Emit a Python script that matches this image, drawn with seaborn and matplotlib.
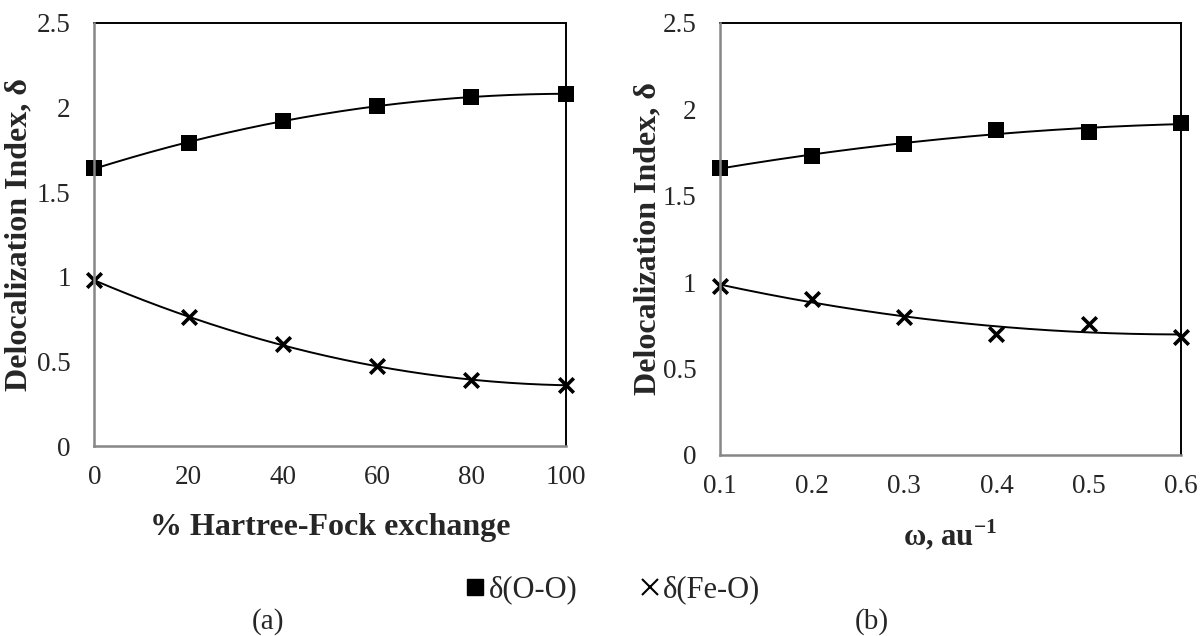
import numpy as np
import pandas as pd
import matplotlib
matplotlib.use("Agg")
import matplotlib.pyplot as plt
import matplotlib.lines as mlines
import seaborn as sns

# panel (a): % Hartree-Fock exchange
hf_x = [0, 20, 40, 60, 80, 100]
hf_oo = [1.64, 1.79, 1.92, 2.01, 2.06, 2.08]
hf_feo = [0.98, 0.76, 0.60, 0.47, 0.39, 0.36]

# panel (b): range separation parameter omega
om_x = [0.1, 0.2, 0.3, 0.4, 0.5, 0.6]
om_oo = [1.66, 1.73, 1.80, 1.88, 1.87, 1.92]
om_feo = [0.98, 0.90, 0.80, 0.70, 0.76, 0.68]

y_ticks = [0, 0.5, 1, 1.5, 2, 2.5]
y_tick_labels = ["0", "0.5", "1", "1.5", "2", "2.5"]

sns.set_style("white")
plt.rcParams['font.family'] = ['Liberation Serif', 'DejaVu Serif']
plt.rcParams['mathtext.fontset'] = 'custom'
plt.rcParams['mathtext.rm'] = 'Liberation Serif'
plt.rcParams['mathtext.bf'] = 'Liberation Serif:bold'

GRAY = '#868686'


def trend(x, y, n=200):
    # 2nd order polynomial trendline through the points
    c = np.polyfit(x, y, 2)
    xs = np.linspace(min(x), max(x), n)
    return pd.DataFrame({'x': xs, 'y': np.polyval(c, xs)})


def draw_panel(ax, x, oo, feo, xticks, xlabels, xlabel, xlab_size):
    for y in (oo, feo):
        t = trend(x, y)
        sns.lineplot(data=t, x='x', y='y', ax=ax, color='black', lw=1.4)
    sns.scatterplot(x=x, y=oo, ax=ax, marker='s', s=125, color='black',
                    edgecolor='black', linewidth=0, zorder=5, clip_on=False)
    sns.scatterplot(x=x, y=feo, ax=ax, marker='x', s=110, color='black',
                    linewidth=2.6, zorder=5, clip_on=False)
    ax.set_xlim(xticks[0], xticks[-1])
    ax.set_ylim(0, 2.5)
    ax.set_xticks(xticks)
    ax.set_xticklabels(xlabels)
    ax.set_yticks(y_ticks)
    ax.set_yticklabels(y_tick_labels)
    ax.tick_params(direction='in', length=6, width=1.3, color=GRAY,
                   labelsize=19.5, pad=14)
    ax.tick_params(axis='y', pad=17)
    for s in ('left', 'bottom'):
        ax.spines[s].set_color(GRAY)
        ax.spines[s].set_linewidth(1.8)
        ax.spines[s].set_zorder(6)
    for s in ('top', 'right'):
        ax.spines[s].set_color('black')
        ax.spines[s].set_linewidth(1.4)
    ax.set_xlabel(xlabel, fontsize=xlab_size, fontweight='bold')
    ax.set_ylabel("Delocalization Index, δ", fontsize=23, fontweight='bold')


fig = plt.figure(figsize=(12.01, 6.36), dpi=100)
ax1 = fig.add_axes([0.0785, 0.2987, 0.3925, 0.6656])
ax2 = fig.add_axes([0.5995, 0.2846, 0.3836, 0.6797])

draw_panel(ax1, hf_x, hf_oo, hf_feo, [0, 20, 40, 60, 80, 100],
           ["0", "20", "40", "60", "80", "100"], "% Hartree-Fock exchange", 23)
draw_panel(ax2, om_x, om_oo, om_feo, [0.1, 0.2, 0.3, 0.4, 0.5, 0.6],
           ["0.1", "0.2", "0.3", "0.4", "0.5", "0.6"],
           r"ω, au$^{\mathbf{-1}}$", 22)

ax1.xaxis.set_label_coords(0.5, -0.158)
ax2.xaxis.set_label_coords(0.5, -0.144)
ax1.yaxis.set_label_coords(-0.129, 0.5)
ax2.yaxis.set_label_coords(-0.125, 0.5)

h_oo = mlines.Line2D([], [], color='black', marker='s', ms=12, lw=0)
h_feo = mlines.Line2D([], [], color='black', marker='x', ms=12, mew=1.5, lw=0)
fig.legend([h_oo, h_feo], ["δ(O-O)", "δ(Fe-O)"], loc='center',
           bbox_to_anchor=(0.51, 0.072), ncol=2, frameon=False,
           fontsize=22, handlelength=0.7, handletextpad=0.1,
           columnspacing=2.0)

fig.text(268 / 1201, 1 - 622 / 636, "(a)", fontsize=21, ha='center', va='center')
fig.text(872 / 1201, 1 - 622 / 636, "(b)", fontsize=21, ha='center', va='center')

fig.savefig("out.png", dpi=100)
plt.close(fig)
